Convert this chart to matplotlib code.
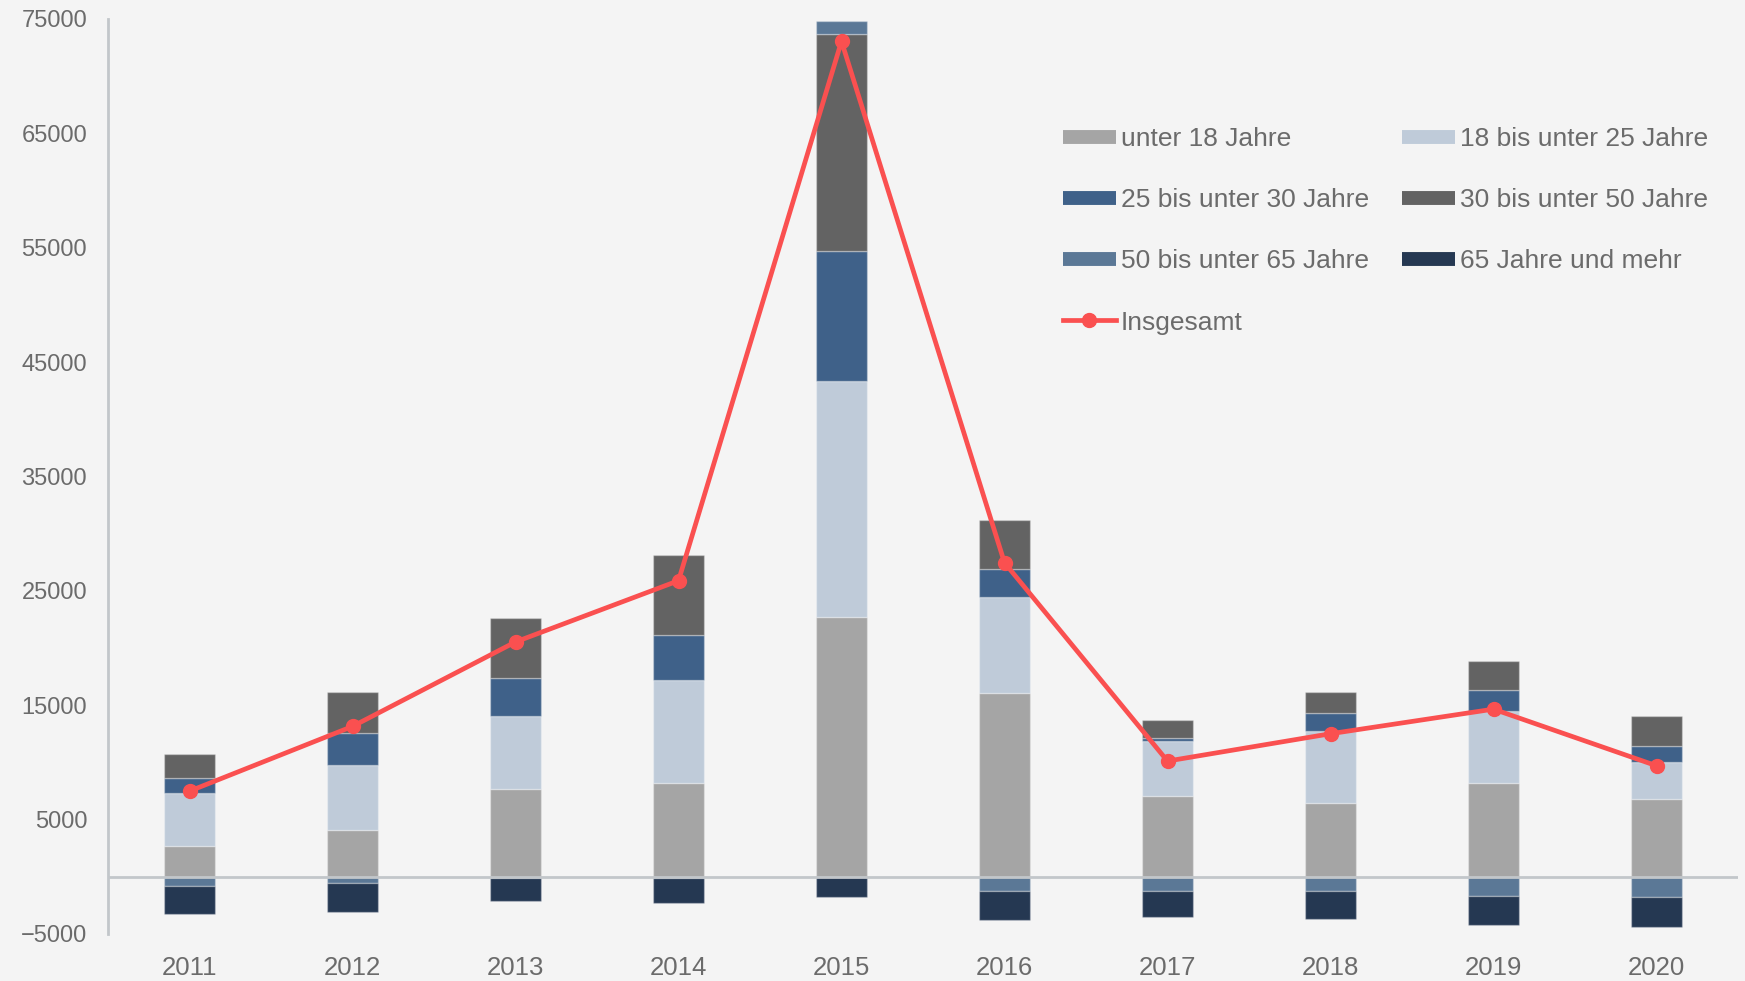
import matplotlib
matplotlib.use("Agg")
import matplotlib.pyplot as plt
from matplotlib.lines import Line2D
import numpy as np

plt.rcParams['font.family'] = ['Liberation Sans', 'DejaVu Sans']

years = ["2011", "2012", "2013", "2014", "2015", "2016", "2017", "2018", "2019", "2020"]
unter_18 = [2680, 4080, 7670, 8160, 22680, 16060, 7060, 6470, 8160, 6820]
a18_25 = [4670, 5690, 6410, 9040, 20640, 8370, 4780, 6300, 6360, 3240]
a25_30 = [1280, 2820, 3300, 3940, 11400, 2510, 320, 1520, 1780, 1400]
a30_50 = [2070, 3590, 5270, 6990, 18980, 4280, 1510, 1890, 2560, 2590]
a50_65 = [-845, -550, -100, -80, 1160, -1200, -1280, -1280, -1660, -1750]
a65_plus = [-2390, -2510, -2030, -2220, -1800, -2560, -2220, -2420, -2570, -2650]
insgesamt = [7490, 13150, 20535, 25890, 73050, 27460, 10120, 12510, 14660, 9710]

labels = ["unter 18 Jahre", "18 bis unter 25 Jahre", "25 bis unter 30 Jahre",
          "30 bis unter 50 Jahre", "50 bis unter 65 Jahre", "65 Jahre und mehr"]
colors = ["#a5a5a5", "#bfcbd9", "#3f6189", "#636363", "#5b7896", "#253852"]
series = [unter_18, a18_25, a25_30, a30_50, a50_65, a65_plus]

bg = "#f4f4f4"
txt = "#6b6b6b"
axc = "#c2c6ca"

fig = plt.figure(figsize=(17.45, 9.81), dpi=100, facecolor=bg)
ax = fig.add_axes([108/1745, 1-934/981, (1738-108)/1745, (934-19)/981])
ax.set_facecolor(bg)

x = np.arange(len(years))
pos_bottom = np.zeros(len(years))
neg_bottom = np.zeros(len(years))
for vals, c in zip(series, colors):
    v = np.array(vals, dtype=float)
    bottoms = np.where(v >= 0, pos_bottom, neg_bottom)
    ax.bar(x, v, width=0.31, bottom=bottoms, color=c,
           edgecolor=(1, 1, 1, 0.3), linewidth=1, zorder=2)
    pos_bottom = pos_bottom + np.where(v >= 0, v, 0)
    neg_bottom = neg_bottom + np.where(v < 0, v, 0)

ax.axhline(0, color=axc, lw=2, zorder=3)
ax.plot(x, insgesamt, color="#fa5050", lw=3.4, marker="o", markersize=10,
        zorder=4, solid_capstyle="round")

ax.set_xlim(-0.5, 9.5)
ax.set_ylim(-5000, 75000)
ax.set_yticks(np.arange(-5000, 75001, 10000))
ax.set_xticks(x)
ax.set_xticklabels(years)
ax.tick_params(axis="y", length=0, labelsize=17, labelcolor=txt, pad=15)
ax.tick_params(axis="x", length=0, labelsize=18.5, labelcolor=txt, pad=16)
for s in ["top", "right", "bottom"]:
    ax.spines[s].set_visible(False)
ax.spines["left"].set_color(axc)
ax.spines["left"].set_linewidth(2)

handles = [Line2D([], [], color=c, lw=10, solid_capstyle="butt") for c in colors]
line_h = Line2D([], [], color="#fa5050", lw=3.4, marker="o", markersize=10)
order = [0, 2, 4, None, 1, 3, 5]
hs, ls = [], []
for o in order:
    if o is None:
        hs.append(line_h); ls.append("Insgesamt")
    else:
        hs.append(handles[o]); ls.append(labels[o])
leg = fig.legend(hs, ls, ncol=2, loc="upper left",
                 bbox_to_anchor=(1063/1745, 1-127/981), frameon=False,
                 fontsize=19, handlelength=2.0, handletextpad=0.2,
                 columnspacing=1.25, labelspacing=1.41, borderpad=0,
                 borderaxespad=0)
for t in leg.get_texts():
    t.set_color(txt)

fig.savefig("out.png", dpi=100, facecolor=bg)
